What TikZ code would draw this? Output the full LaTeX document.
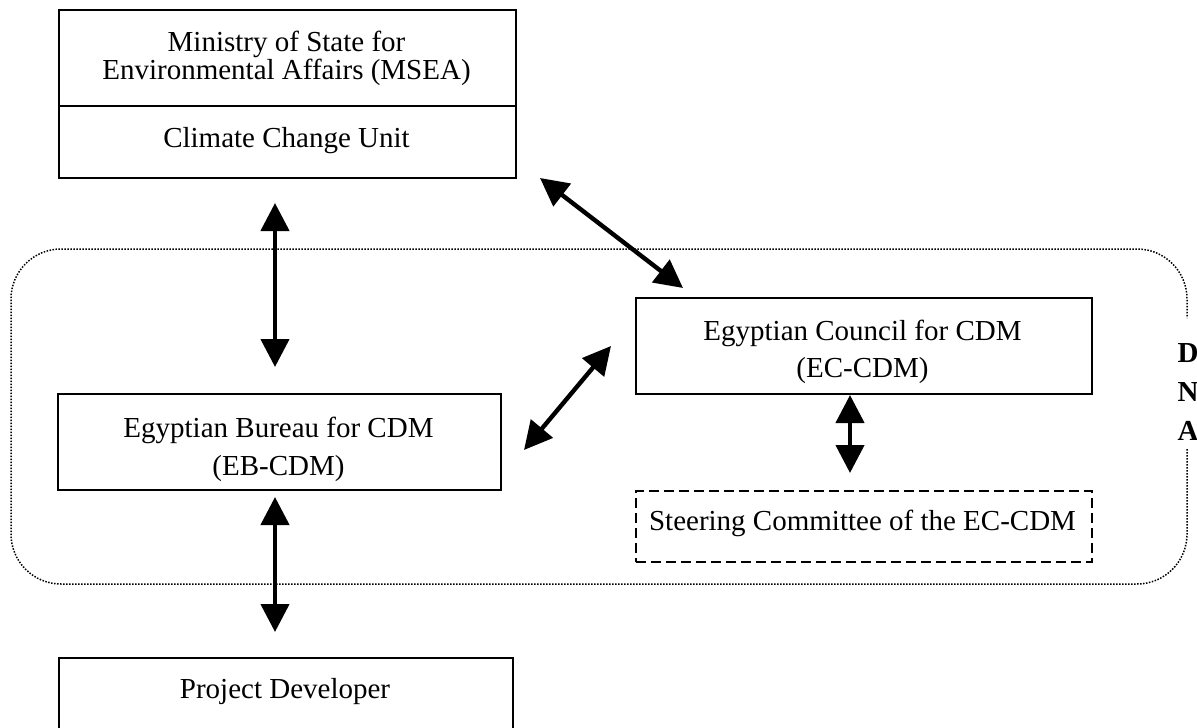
\documentclass[tikz,border=0pt]{standalone}
\usepackage{fontspec}
\setmainfont{Liberation Serif}
\usetikzlibrary{arrows.meta}
\newcommand{\fs}{\fontsize{14.5pt}{17pt}\selectfont}
\tikzset{
  box/.style={draw, line width=1pt, rectangle, inner sep=0pt, anchor=north west},
  dbox/.style={box, dash pattern=on 5pt off 2.5pt},
  lbl/.style={inner sep=0pt, font=\fs, anchor=base},
  dnal/.style={inner sep=0pt, font=\fs\bfseries, anchor=base},
  both/.style={{Triangle[length=14pt,width=14pt]}-{Triangle[length=14pt,width=14pt]}, line width=2.2pt},
  frame/.style={line width=0.75pt, dash pattern=on 0.75pt off 0.75pt, rounded corners=25pt}
}
\begin{document}
\begin{tikzpicture}[x=0.5pt,y=-0.5pt]
\useasboundingbox (0,0) rectangle (1197,727);
% boxes
\node (msea) [box, minimum width=228.5pt, minimum height=48pt] at (58,9) {};
\node (ccu) [box, minimum width=228.5pt, minimum height=36pt] at (58,105) {};
\node (ec) [box, minimum width=228pt, minimum height=48pt] at (635,297) {};
\node (sc) [dbox, minimum width=228pt, minimum height=35.5pt] at (635,490) {};
\node (eb) [box, minimum width=221.5pt, minimum height=48pt] at (57,393) {};
\begin{scope}
  \clip (0,0) rectangle (1197,727);
  \node (pdbox) [box, minimum width=227pt, minimum height=50pt] at (58,657) {};
\end{scope}
% texts
\node (mseaa) [lbl] at (286.5,52) {Ministry of State for};
\node (mseab) [lbl] at (286.5,80) {Environmental Affairs (MSEA)};
\node (ccut) [lbl] at (286.5,148) {Climate Change Unit};
\node (eca) [lbl] at (862.5,340) {Egyptian Council for CDM};
\node (ecb) [lbl] at (862.5,377) {(EC-CDM)};
\node (sct) [lbl] at (862.5,530) {Steering Committee of the EC-CDM};
\node (eba) [lbl] at (278.5,437) {Egyptian Bureau for CDM};
\node (ebb) [lbl] at (278.5,475) {(EB-CDM)};
\node (pd) [lbl] at (285,698) {Project Developer};
% DNA frame
\draw[frame] (1187,449) -- (1187,584) -- (11,584) -- (11,249) -- (1187,249) -- (1187,318);
\node (d) [dnal] at (1188,362) {D};
\node (n) [dnal] at (1188,401) {N};
\node (a) [dnal] at (1188,440) {A};
% arrow ends
\coordinate (a1s) at (275,203);
\coordinate (a1e) at (275,367);
\coordinate (a2s) at (540,178);
\coordinate (a2e) at (683,288);
\coordinate (a3s) at (611,346);
\coordinate (a3e) at (524,450);
\coordinate (a4s) at (850,395);
\coordinate (a4e) at (850,473);
\coordinate (a5s) at (275,497);
\coordinate (a5e) at (275,632);
\draw[both] (a1s) -- (a1e);
\draw[both] (a2s) -- (a2e);
\draw[both] (a3s) -- (a3e);
\draw[both] (a4s) -- (a4e);
\draw[both] (a5s) -- (a5e);
\end{tikzpicture}
\end{document}
